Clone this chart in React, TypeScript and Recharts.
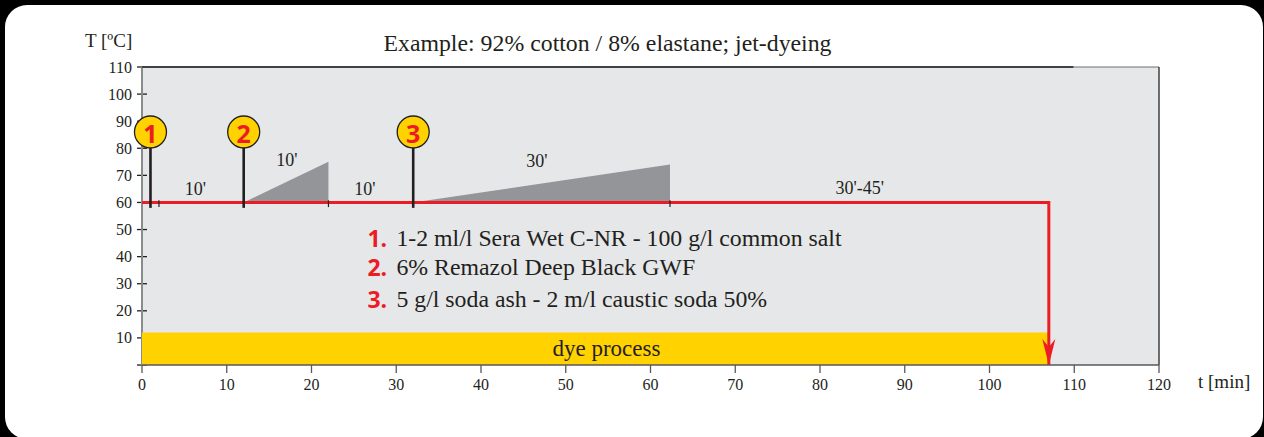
import React from 'react';
import {
  ComposedChart,
  XAxis,
  YAxis,
  Line,
  Area,
  Scatter,
  ReferenceArea,
  ReferenceLine,
  CartesianGrid,
} from 'recharts';

// ---------- data ----------
const timeTicks = [0, 10, 20, 30, 40, 50, 60, 70, 80, 90, 100, 110, 120];
const tempTicks = [10, 20, 30, 40, 50, 60, 70, 80, 90, 100, 110];

const profileTimes = [0, 107, 107];
const profileTemps = [60, 60, 0];

const rampStartTimes = [12, 32];
const rampEndTimes = [22, 62.3];
const rampBaseTemp = 60;
const rampTopTemps = [75, 74];

const markerTimes = [1, 12, 32];
const markerNumbers = ['1', '2', '3'];
const markerTemp = 86;
const stemTopTemp = 80.5;
const stemBottomTemp = 58;

const segmentTickTimes = [2, 22, 62.3];

const durationTexts = ["10'", "10'", "10'", "30'", "30'-45'"];
const durationTimes = [6.3, 17.1, 26.3, 46.6, 84.7];
const durationTemps = [64.8, 75.5, 64.8, 75.3, 65.5];

const dyeStart = 0;
const dyeEnd = 107;
const dyeTop = 12;
const dyeLabel = 'dye process';
const dyeLabelTime = 54.8;
const dyeLabelTemp = 6.2;

const additionNumbers = ['1.', '2.', '3.'];
const additionTexts = [
  '1-2 ml/l Sera Wet C-NR - 100 g/l common salt',
  '6% Remazol Deep Black GWF',
  '5 g/l soda ash - 2 m/l caustic soda 50%',
];
const additionTime = 26.6;
const additionTemps = [46.9, 36.2, 24.4];

const titleText = 'Example: 92% cotton / 8% elastane; jet-dyeing';
const yAxisTitle = 'T [ºC]';
const xAxisTitle = 't [min]';

// ---------- derived tables ----------
const profileData = profileTimes.map((t, i) => ({ t, T: profileTemps[i] }));
const rampData = rampStartTimes.map((s, i) => [
  { t: s, T: rampBaseTemp },
  { t: rampEndTimes[i], T: rampTopTemps[i] },
]);
const markerData = markerTimes.map((t, i) => ({ t, T: markerTemp, label: markerNumbers[i] }));
const durationData = durationTexts.map((text, i) => ({ t: durationTimes[i], T: durationTemps[i], text }));
const dyeLabelData = [{ t: dyeLabelTime, T: dyeLabelTemp, text: dyeLabel }];
const additionData = additionTexts.map((text, i) => ({ t: additionTime, T: additionTemps[i], num: additionNumbers[i], text }));

// ---------- styles ----------
const W = 1264;
const H = 437;
const PLOT_LEFT = 142;
const SERIF = '"Liberation Serif", "Times New Roman", serif';
const SANS = '"Open Sans", "Noto Sans", sans-serif';
const RED = '#ed1c24';
const YELLOW = '#ffd200';
const DARK = '#231f20';
const GREY_FILL = '#939598';
const BG = '#e6e7e8';

// y-axis tick marks drawn in the grid layer (beneath the series)
const GridHLine = (props: any) => {
  const { x1, y1 } = props;
  return <line x1={x1 - 5} x2={x1 + 5} y1={y1} y2={y1} stroke={DARK} strokeWidth={1.3} />;
};
// y-axis line drawn in the grid layer (only at the plot's left edge)
const GridVLine = (props: any) => {
  const { x1, y1, y2 } = props;
  if (Math.abs(x1 - PLOT_LEFT) > 1) return <g />;
  return <line x1={x1} x2={x1} y1={y1} y2={y2} stroke="#8a8b8d" strokeWidth={2} />;
};

const YTick = (props: any) => {
  const { y, payload } = props;
  return (
    <text
      x={PLOT_LEFT - 10}
      y={y}
      textAnchor="end"
      dominantBaseline="central"
      fontFamily={SERIF}
      fontSize={16}
      fill={DARK}
    >
      {payload.value}
    </text>
  );
};

const XTick = (props: any) => {
  const { x, y, payload } = props;
  return (
    <text x={x} y={y + 9} textAnchor="middle" dominantBaseline="central" fontFamily={SERIF} fontSize={16} fill={DARK}>
      {payload.value}
    </text>
  );
};

const MarkerShape = (props: any) => {
  const { cx, cy, payload } = props;
  return (
    <g>
      <circle cx={cx} cy={cy} r={16} fill={YELLOW} stroke={DARK} strokeWidth={1.3} />
      <text
        x={cx}
        y={cy + 1}
        textAnchor="middle"
        dominantBaseline="central"
        fontFamily={SANS}
        fontWeight={700}
        fontSize={25}
        fill={RED}
      >
        {payload.label}
      </text>
    </g>
  );
};

const makeTextShape = (fontSize: number) => (props: any) => {
  const { cx, cy, payload } = props;
  return (
    <text x={cx} y={cy} textAnchor="middle" dominantBaseline="central" fontFamily={SERIF} fontSize={fontSize} fill={DARK}>
      {payload.text}
    </text>
  );
};
const DurationShape = makeTextShape(18);
const DyeShape = makeTextShape(23);

const AdditionShape = (props: any) => {
  const { cx, cy, payload } = props;
  return (
    <g>
      <text x={cx} y={cy} textAnchor="start" dominantBaseline="central" fontFamily={SANS} fontWeight={700} fontSize={23} fill={RED}>
        {payload.num}
      </text>
      <text x={cx + 29} y={cy} textAnchor="start" dominantBaseline="central" fontFamily={SERIF} fontSize={23.8} fill={DARK}>
        {payload.text}
      </text>
    </g>
  );
};

const ArrowDot = (props: any) => {
  const { cx, cy, index } = props;
  if (index !== profileData.length - 1) return <g key={`d${index}`} />;
  return (
    <path
      key={`d${index}`}
      d={`M${cx},${cy} L${cx - 6.5},${cy - 26} L${cx},${cy - 18} L${cx + 6.5},${cy - 26} Z`}
      fill={RED}
    />
  );
};

export default function App() {
  return (
    <div style={{ position: 'fixed', left: 0, top: 0, width: W, height: H, background: '#000', overflow: 'hidden' }}>
      <div
        style={{ position: 'absolute', left: 5, top: 5, width: 1258, height: 434, background: '#fff', borderRadius: 22 }}
      />
      <div style={{ position: 'absolute', left: 0, top: 0 }}>
        <ComposedChart width={W} height={H} margin={{ top: 67, right: 105, bottom: 42, left: 92 }}>
          <CartesianGrid horizontal={GridHLine} vertical={GridVLine} fill={BG} fillOpacity={1} />
          <XAxis
            dataKey="t"
            type="number"
            domain={[0, 120]}
            ticks={timeTicks}
            interval={0}
            height={30}
            tickSize={8}
            tick={<XTick />}
            axisLine={{ stroke: '#58595b', strokeWidth: 1.5 }}
            tickLine={{ stroke: '#58595b', strokeWidth: 1.3 }}
          />
          <YAxis
            dataKey="T"
            type="number"
            domain={[0, 110]}
            ticks={tempTicks}
            interval={0}
            width={50}
            tickLine={false}
            tick={<YTick />}
            axisLine={false}
          />
          <ReferenceArea
            x1={dyeStart}
            x2={dyeEnd}
            y1={0}
            y2={dyeTop}
            fill={YELLOW}
            fillOpacity={1}
            stroke="none"
            ifOverflow="visible"
          />
          <ReferenceLine y={110} stroke="#6d6e71" strokeWidth={1} ifOverflow="visible" />
          <ReferenceLine
            segment={[{ x: 0, y: 110 }, { x: 109.9, y: 110 }]}
            stroke="#414042"
            strokeWidth={2}
            ifOverflow="visible"
          />
          <ReferenceLine x={120} stroke="#414042" strokeWidth={1.5} ifOverflow="visible" />
          {rampData.map((d, i) => (
            <Area
              key={`ramp${i}`}
              data={d}
              dataKey="T"
              type="linear"
              baseValue={rampBaseTemp}
              fill={GREY_FILL}
              fillOpacity={1}
              stroke="none"
              isAnimationActive={false}
              dot={false}
              activeDot={false}
            />
          ))}
          <Line
            data={profileData}
            dataKey="T"
            type="linear"
            stroke={RED}
            strokeWidth={3}
            dot={<ArrowDot />}
            activeDot={false}
            isAnimationActive={false}
          />
          {segmentTickTimes.map((t, i) => (
            <ReferenceLine
              key={`tk${i}`}
              segment={[{ x: t, y: 58.3 }, { x: t, y: 60.8 }]}
              stroke={DARK}
              strokeWidth={1.2}
              ifOverflow="visible"
            />
          ))}
          {markerTimes.map((t, i) => (
            <ReferenceLine
              key={`st${i}`}
              segment={[{ x: t, y: stemBottomTemp }, { x: t, y: stemTopTemp }]}
              stroke={DARK}
              strokeWidth={2.6}
              ifOverflow="visible"
            />
          ))}
          <Scatter data={markerData} dataKey="T" shape={<MarkerShape />} isAnimationActive={false} />
          <Scatter data={durationData} dataKey="T" shape={<DurationShape />} isAnimationActive={false} />
          <Scatter data={dyeLabelData} dataKey="T" shape={<DyeShape />} isAnimationActive={false} />
          <Scatter data={additionData} dataKey="T" shape={<AdditionShape />} isAnimationActive={false} />
        </ComposedChart>
      </div>
      <svg
        width={W}
        height={H}
        style={{ position: 'absolute', left: 0, top: 0, pointerEvents: 'none' }}
      >
        <text x={607.5} y={51} textAnchor="middle" fontFamily={SERIF} fontSize={23.8} fill={DARK}>
          {titleText}
        </text>
        <text x={85} y={47} textAnchor="start" fontFamily={SERIF} fontSize={19} fill={DARK}>
          {yAxisTitle}
        </text>
        <text x={1198} y={388} textAnchor="start" fontFamily={SERIF} fontSize={19} fill={DARK}>
          {xAxisTitle}
        </text>
      </svg>
    </div>
  );
}
